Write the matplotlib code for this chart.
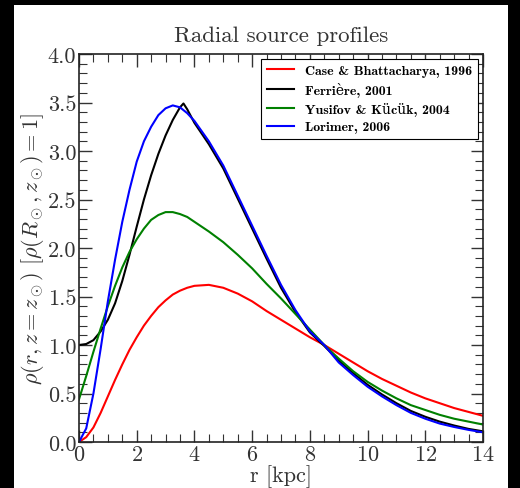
import matplotlib
matplotlib.use("Agg")
import matplotlib.pyplot as plt
from matplotlib.ticker import MultipleLocator, FormatStrFormatter
from matplotlib.patches import Rectangle

plt.rcParams["font.family"] = "serif"
plt.rcParams["font.serif"] = ["cmr10"]
plt.rcParams["mathtext.fontset"] = "cm"
plt.rcParams["axes.formatter.use_mathtext"] = True
plt.rcParams["axes.unicode_minus"] = False

# radius grid (kpc)
r = [0, 0.25, 0.5, 0.75, 1.0, 1.25, 1.5, 1.75, 2.0, 2.25, 2.5, 2.75, 3.0, 3.25,
     3.5, 3.75, 4.0, 4.5, 5.0, 5.5, 6.0, 6.5, 7.0, 7.5, 8.0, 8.5, 9.0, 9.5,
     10.0, 10.5, 11.0, 11.5, 12.0, 12.5, 13.0, 13.5, 14.0]

case = [0.0, 0.05, 0.15, 0.30, 0.47, 0.64, 0.80, 0.95, 1.08, 1.20, 1.30, 1.39,
        1.46, 1.52, 1.56, 1.59, 1.61, 1.62, 1.59, 1.53, 1.45, 1.35, 1.26, 1.17,
        1.08, 1.00, 0.91, 0.82, 0.73, 0.65, 0.58, 0.51, 0.45, 0.40, 0.35, 0.31,
        0.27]

yusifov = [0.44, 0.68, 0.93, 1.17, 1.40, 1.61, 1.80, 1.96, 2.09, 2.20, 2.29,
           2.34, 2.37, 2.37, 2.35, 2.32, 2.27, 2.17, 2.06, 1.93, 1.79, 1.63,
           1.48, 1.32, 1.16, 1.00, 0.86, 0.73, 0.62, 0.53, 0.45, 0.38, 0.33,
           0.28, 0.24, 0.21, 0.18]

lorimer = [0.0, 0.14, 0.50, 0.96, 1.45, 1.88, 2.27, 2.60, 2.89, 3.10, 3.25,
           3.37, 3.44, 3.47, 3.45, 3.39, 3.31, 3.10, 2.85, 2.54, 2.23, 1.92,
           1.62, 1.36, 1.14, 1.00, 0.82, 0.69, 0.57, 0.47, 0.38, 0.30, 0.24,
           0.19, 0.155, 0.125, 0.10]

# Ferriere has a kink near 3.62 kpc
r_fer = [0, 0.25, 0.5, 0.75, 1.0, 1.25, 1.5, 1.75, 2.0, 2.25, 2.5, 2.75, 3.0,
         3.25, 3.5, 3.62, 3.75, 4.0, 4.5, 5.0, 5.5, 6.0, 6.5, 7.0, 7.5, 8.0,
         8.5, 9.0, 9.5, 10.0, 10.5, 11.0, 11.5, 12.0, 12.5, 13.0, 13.5, 14.0]
ferriere = [1.00, 1.01, 1.05, 1.14, 1.26, 1.43, 1.66, 1.93, 2.22, 2.50, 2.75,
            2.97, 3.16, 3.32, 3.45, 3.49, 3.43, 3.29, 3.07, 2.82, 2.51, 2.20,
            1.89, 1.59, 1.34, 1.13, 0.99, 0.84, 0.71, 0.59, 0.49, 0.40, 0.32,
            0.26, 0.21, 0.17, 0.135, 0.11]

labels = ["Case & Bhattacharya, 1996", "Ferrière, 2001",
          "Yusifov & Kücük, 2004", "Lorimer, 2006"]

fig = plt.figure(figsize=(5.2, 4.89), dpi=100, facecolor="black")
fig.patches.append(Rectangle((14 / 520, 0), 494 / 520, 483 / 489,
                             transform=fig.transFigure, facecolor="white",
                             edgecolor="none", zorder=-1))
ax = fig.add_axes([79 / 520, 46 / 489, 404 / 520, 388 / 489])

ax.plot(r, case, color="red", lw=1.5, label=labels[0])
ax.plot(r_fer, ferriere, color="black", lw=1.5, label=labels[1])
ax.plot(r, yusifov, color="green", lw=1.5, label=labels[2])
ax.plot(r, lorimer, color="blue", lw=1.5, label=labels[3])

ax.set_xlim(0, 14)
ax.set_ylim(0, 4.0)
ax.xaxis.set_major_locator(MultipleLocator(2))
ax.xaxis.set_minor_locator(MultipleLocator(0.5))
ax.yaxis.set_major_locator(MultipleLocator(0.5))
ax.yaxis.set_minor_locator(MultipleLocator(0.1))
ax.yaxis.set_major_formatter(FormatStrFormatter("%.1f"))
ax.tick_params(which="both", direction="in", top=True, right=True,
               colors="#333333", labelsize=16, pad=2)
ax.tick_params(which="major", length=9, width=1.0)
ax.tick_params(which="minor", length=5.5, width=0.8)
for s in ax.spines.values():
    s.set_linewidth(1.2)
    s.set_color("#222222")

ax.set_title("Radial source profiles", fontsize=16.5, color="#333333", pad=9)
ax.set_xlabel("r [kpc]", fontsize=16, color="#333333", labelpad=0)
ax.set_ylabel(r"$\rho(r, z = z_\odot)\ [\rho(R_\odot, z_\odot) = 1]$",
              fontsize=16, color="#333333", labelpad=1)

leg = ax.legend(loc="upper right", fancybox=False, edgecolor="black",
                framealpha=1, handlelength=2.0, handletextpad=0.8,
                borderaxespad=0.35, labelspacing=0.35,
                prop={"family": ["cmb10", "DejaVu Serif"], "size": 10})
leg.get_frame().set_linewidth(0.8)

fig.savefig("out.png", dpi=100, facecolor=fig.get_facecolor())
